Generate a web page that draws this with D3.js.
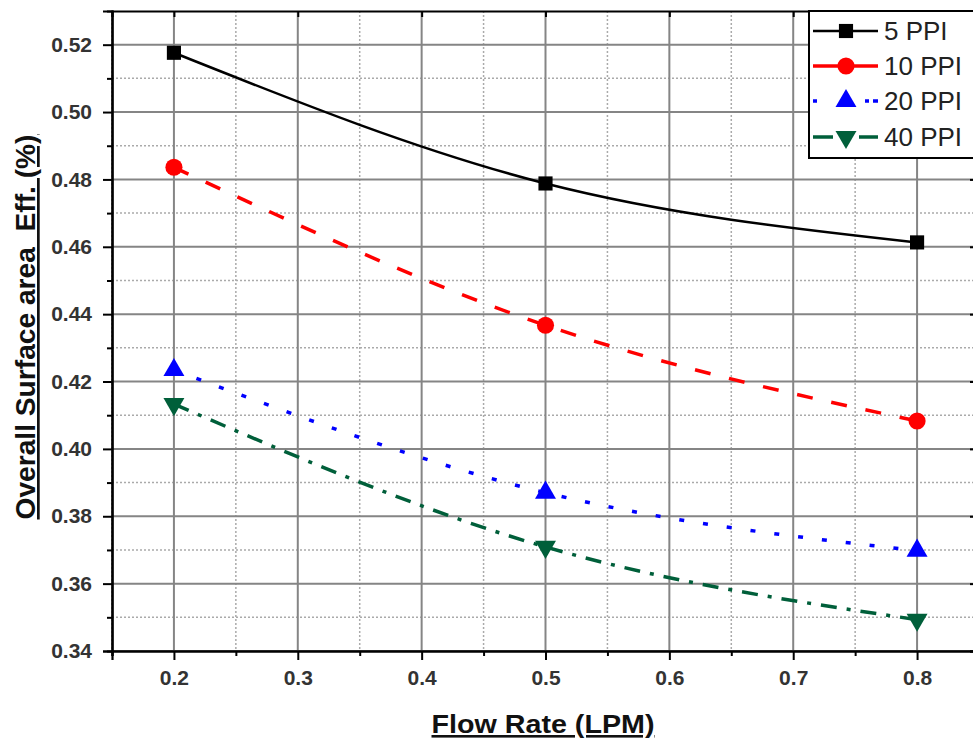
<!DOCTYPE html>
<html><head><meta charset="utf-8">
<script src="https://cdn.jsdelivr.net/npm/d3@7"></script>
<style>body{margin:0;background:#fff;} svg{display:block;font-family:Arial,"Liberation Sans",sans-serif;}</style>
</head><body><svg id="c" width="973" height="743"></svg>
<script>
const flowRates = [0.2, 0.5, 0.8];
const ppi5  = [0.5176, 0.4788, 0.4613];
const ppi10 = [0.4836, 0.4367, 0.4083];
const ppi20 = [0.4234, 0.3870, 0.3698];
const ppi40 = [0.4133, 0.3709, 0.3493];
const seriesNames = ["5 PPI", "10 PPI", "20 PPI", "40 PPI"];
const xTicks = [0.2, 0.3, 0.4, 0.5, 0.6, 0.7, 0.8];
const yTicks = [0.34, 0.36, 0.38, 0.40, 0.42, 0.44, 0.46, 0.48, 0.50, 0.52];
const xMinor = [0.15,0.25,0.35,0.45,0.55,0.65,0.75,0.85];
const yMinor = [0.35,0.37,0.39,0.41,0.43,0.45,0.47,0.49,0.51];

const svg = d3.select("#c");
const L = 112, T = 11, R = 979, B = 651;
const x = d3.scaleLinear().domain([0.15, 0.85]).range([L, R]);
const y = d3.scaleLinear().domain([0.34, 0.53]).range([B, T]);

const series = [
  {name: seriesNames[0], vals: ppi5,  color: "#000000", dash: null, sym: d3.symbolSquare, size: 200, rot: 0, w: 2.5},
  {name: seriesNames[1], vals: ppi10, color: "#ff0000", dash: "16,19", sym: d3.symbolCircle, size: 230, rot: 0, w: 3.5},
  {name: seriesNames[2], vals: ppi20, color: "#0000ff", dash: "5,19", sym: d3.symbolTriangle, size: 190, rot: 0, w: 3.5},
  {name: seriesNames[3], vals: ppi40, color: "#005f3a", dash: "16,10,4,10", sym: d3.symbolTriangle, size: 190, rot: 180, w: 3.5}
];

const g = svg.append("g");
g.selectAll(".mgx").data(xMinor).join("line")
  .attr("x1", d => x(d)).attr("x2", d => x(d)).attr("y1", T).attr("y2", B)
  .attr("stroke", "#aaa").attr("stroke-width", 1.5).attr("stroke-dasharray", "2,2");
g.selectAll(".mgy").data(yMinor).join("line")
  .attr("x1", L).attr("x2", R).attr("y1", d => y(d)).attr("y2", d => y(d))
  .attr("stroke", "#aaa").attr("stroke-width", 1.5).attr("stroke-dasharray", "2,2");
g.selectAll(".gx").data(xTicks).join("line")
  .attr("x1", d => x(d)).attr("x2", d => x(d)).attr("y1", T).attr("y2", B)
  .attr("stroke", "#858585").attr("stroke-width", 2);
g.selectAll(".gy").data(yTicks).join("line")
  .attr("x1", L).attr("x2", R).attr("y1", d => y(d)).attr("y2", d => y(d))
  .attr("stroke", "#858585").attr("stroke-width", 2);

const fmtX = d3.format(".1f"), fmtY = d3.format(".2f");
const xAxis = svg.append("g").attr("transform", `translate(0,${B})`)
  .call(d3.axisBottom(x).tickValues(xTicks).tickFormat(fmtX).tickSize(9).tickPadding(10));
const xAxisMinor = svg.append("g").attr("transform", `translate(0,${B})`)
  .call(d3.axisBottom(x).tickValues(xMinor).tickFormat("").tickSize(5));
const yAxis = svg.append("g").attr("transform", `translate(${L},0)`)
  .call(d3.axisLeft(y).tickValues(yTicks).tickFormat(fmtY).tickSize(9).tickPadding(11));
const yAxisMinor = svg.append("g").attr("transform", `translate(${L},0)`)
  .call(d3.axisLeft(y).tickValues(yMinor).tickFormat("").tickSize(5));
const topAxis = svg.append("g").attr("transform", `translate(0,${T})`)
  .call(d3.axisBottom(x).tickValues(xTicks).tickFormat("").tickSize(6));
const rightAxis = svg.append("g").attr("transform", `translate(${R},0)`)
  .call(d3.axisLeft(y).tickValues(yTicks).tickFormat("").tickSize(9));
[xAxis, xAxisMinor, yAxis, yAxisMinor, topAxis, rightAxis].forEach(a => {
  a.select(".domain").attr("stroke", "#000").attr("stroke-width", 2.2);
  a.selectAll(".tick line").attr("stroke", "#000").attr("stroke-width", 2);
});
[xAxis, yAxis].forEach(a => a.selectAll("text").attr("font-size", 21).attr("font-weight", "bold").attr("fill", "#333")
  .attr("font-family", "Arial, 'Liberation Sans', sans-serif"));
xAxis.selectAll("text").attr("dy", "0.71em");

const line = d3.line().x(d => x(d[0])).y(d => y(d[1])).curve(d3.curveMonotoneX);
series.forEach(s => {
  const pts = flowRates.map((f, i) => [f, s.vals[i]]);
  svg.append("path").datum(pts).attr("d", line).attr("fill", "none")
    .attr("stroke", s.color).attr("stroke-width", s.w)
    .attr("stroke-dasharray", s.dash);
  svg.selectAll(null).data(pts).join("path")
    .attr("d", d3.symbol().type(s.sym).size(s.size))
    .attr("transform", d => `translate(${x(d[0])},${y(d[1])}) rotate(${s.rot})`)
    .attr("fill", s.color);
});

const lg = svg.append("g");
lg.append("rect").attr("x", 809).attr("y", T).attr("width", 200).attr("height", 147)
  .attr("fill", "#fff").attr("stroke", "#000").attr("stroke-width", 2);
const rowY = [31, 66, 101, 137];
series.forEach((s, i) => {
  lg.append("line").attr("x1", 813).attr("x2", 878).attr("y1", rowY[i]).attr("y2", rowY[i])
    .attr("stroke", s.color).attr("stroke-width", s.w)
    .attr("stroke-dasharray", i < 2 ? null : i === 2 ? "4,48,4" : "20,26,20");
  lg.append("path").attr("d", d3.symbol().type(s.sym).size(s.size))
    .attr("transform", `translate(846,${rowY[i]}) rotate(${s.rot})`).attr("fill", s.color);
  lg.append("text").attr("x", 884).attr("y", rowY[i]).attr("dy", "0.36em")
    .attr("font-size", 26).attr("fill", "#222").text(s.name);
});

svg.append("text").attr("x", 543).attr("y", 733).attr("text-anchor", "middle")
  .attr("font-size", 26).attr("font-weight", "bold").attr("fill", "#111")
  .attr("textLength", 223).attr("lengthAdjust", "spacingAndGlyphs")
  .attr("text-decoration", "underline").text("Flow Rate (LPM)");
svg.append("text").attr("transform", "translate(35,327) rotate(-90)").attr("text-anchor", "middle")
  .attr("font-size", 27).attr("font-weight", "bold").attr("fill", "#111")
  .attr("textLength", 385).attr("lengthAdjust", "spacingAndGlyphs")
  .attr("text-decoration", "underline")
  .style("white-space", "pre").text("Overall Surface area  Eff. (%)");
</script></body></html>
